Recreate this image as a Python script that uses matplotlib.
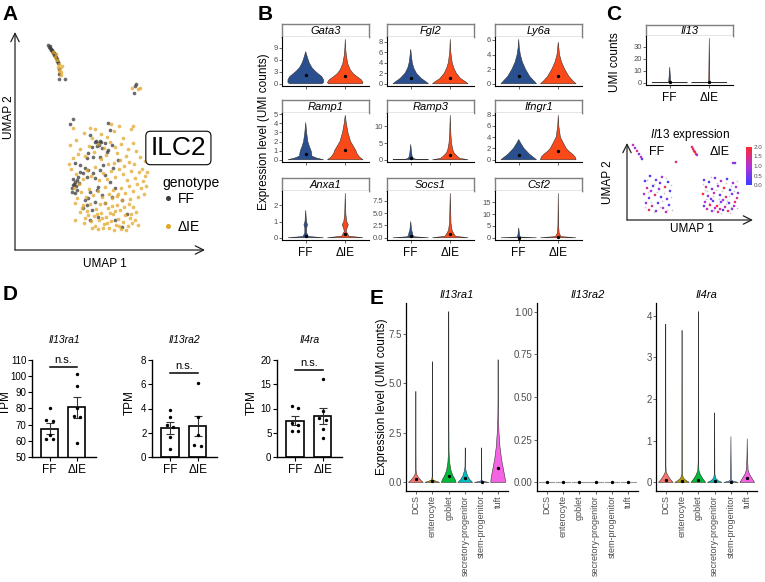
import numpy as np
import matplotlib
matplotlib.use("Agg")
import matplotlib.pyplot as plt
from matplotlib.colors import LinearSegmentedColormap, Normalize
from matplotlib.lines import Line2D

plt.rcParams['font.family'] = ['Liberation Sans', 'DejaVu Sans']
plt.rcParams['mathtext.fontset'] = 'custom'
plt.rcParams['mathtext.it'] = 'Liberation Sans:italic'
plt.rcParams['mathtext.rm'] = 'Liberation Sans'

# ---------------- data ----------------
# A: UMAP of ILC2, by genotype
a_ff_u1 = [3.3, 3.4, 3.5, 3.55, 3.6, 3.7, 3.75, 3.8, 3.9, 3.95, 4.0, 4.1, 4.2, 4.3, 4.4, 4.4, 4.4, 5.0,
           3.45, 3.65, 3.85, 4.05, 4.15, 4.25,
           12.0, 11.9, 12.1, 5.8,
           5.5, 9.3, 9.5, 7.5, 8.0, 8.3, 8.5, 8.2, 7.7, 8.7, 9.0, 9.3, 7.3, 7.2, 7.8, 8.5, 9.2, 9.7,
           6.0, 6.5, 7.0, 7.3, 6.8, 6.3, 6.2, 6.0, 5.8, 5.7, 6.2, 6.0, 5.7, 8.0, 9.0, 9.5, 8.3, 7.5,
           8.2, 8.7, 7.3, 7.2, 6.8, 7.7, 8.3, 7.5, 10.7, 7.0, 8.0, 9.0, 9.7, 10.0, 10.7, 6.5, 7.2,
           7.8, 8.5, 8.8, 9.8, 5.9, 6.1, 5.8, 6.4, 8.1, 8.4, 8.6, 10.3, 11.2, 10.0]
a_ff_u2 = [20.5, 20.3, 20.2, 20.1, 20.0, 19.9, 19.8, 19.7, 19.5, 19.6, 19.4, 19.2, 18.9, 18.7, 18.1, 17.6, 17.1, 17.1,
           20.4, 20.05, 19.75, 19.35, 19.1, 18.85,
           16.4, 15.7, 16.6, 13.1,
           12.6, 12.7, 12.0, 11.5, 10.8, 10.7, 10.9, 10.4, 10.3, 10.2, 10.7, 10.0, 9.7, 9.2, 9.3, 9.3, 9.8, 10.5,
           8.7, 8.5, 8.2, 8.0, 7.7, 7.3, 7.0, 6.8, 6.5, 6.2, 6.0, 5.7, 5.8, 7.2, 7.5, 6.8, 6.3, 5.8,
           6.0, 5.5, 5.2, 4.5, 4.2, 4.0, 3.3, 3.0, 2.3, 5.0, 4.8, 4.7, 5.3, 6.2, 5.0, 7.8, 7.3,
           7.7, 8.0, 8.5, 8.2, 6.6, 6.4, 7.1, 6.7, 10.9, 10.5, 10.8, 9.0, 3.6, 3.0]
a_die_u1 = [4.0, 4.2, 4.4, 4.5, 4.6, 4.7, 4.3, 4.1, 3.8, 4.55, 4.35, 11.7, 12.3, 12.5, 7.5, 11.8, 11.6,
            6.8, 7.2, 7.5, 7.9, 8.1, 8.4, 8.6, 8.9, 9.1, 9.3, 9.6, 9.8, 10.1, 10.3, 10.5, 10.8, 11.0, 11.3, 11.5,
            7.0, 7.6, 8.0, 8.3, 8.8, 9.4, 9.9, 10.6, 11.1, 7.3, 8.5, 9.0, 9.7, 10.2, 11.7, 12.0, 12.3, 12.1,
            11.8, 6.5, 6.9, 8.7, 9.5, 10.0, 10.9, 11.4, 7.7, 8.2, 9.2, 10.4, 11.6,
            6.2, 6.6, 7.1, 7.4, 7.8, 8.3, 8.7, 9.0, 9.4, 9.8, 10.2, 10.6, 11.0, 11.4, 11.8, 12.2, 12.6, 13.0,
            12.8, 12.4, 12.0, 11.6, 11.2, 10.8, 10.4, 10.0, 9.6, 9.2, 8.8, 8.4, 8.0, 7.6, 7.2, 6.8, 11.9, 11.4,
            10.9, 12.7, 13.2, 10.5, 9.9, 9.3, 8.6, 12.3, 12.9, 11.5, 10.7, 9.7, 13.1, 6.4, 5.9, 6.1, 5.6, 5.4,
            5.8, 6.3, 9.1, 10.2, 11.1, 12.5, 13.0, 6.7, 6.0,
            6.5, 7.0, 7.4, 7.9, 8.3, 8.9, 9.5, 10.0, 10.6, 11.3, 11.8, 12.1, 7.7, 8.6, 9.2, 9.9, 6.1, 6.9,
            10.8, 8.0, 9.6, 5.5, 5.8, 10.4, 6.0, 10.3]
a_die_u2 = [19.3, 19.0, 18.6, 18.2, 17.8, 18.4, 18.3, 19.6, 19.8, 17.5, 17.9, 16.2, 16.1, 16.2, 12.2, 12.4, 12.1,
            4.5, 3.9, 4.6, 3.4, 4.1, 3.0, 3.7, 2.6, 3.3, 4.2, 2.9, 3.6, 2.5, 3.1, 4.0, 2.8, 3.5, 2.4, 3.2,
            3.2, 2.9, 2.4, 2.1, 2.2, 2.2, 2.0, 2.1, 2.0, 3.5, 4.6, 4.7, 4.4, 4.5, 2.7, 3.0, 2.5, 3.8,
            4.3, 3.8, 2.7, 3.2, 3.7, 3.9, 4.3, 4.6, 2.2, 3.6, 2.7, 2.4, 3.6,
            5.2, 5.8, 5.3, 6.1, 5.5, 5.9, 5.3, 6.3, 5.6, 6.0, 5.4, 6.2, 5.7, 6.4, 5.9, 6.6, 6.2, 7.4,
            6.9, 7.8, 7.2, 7.9, 7.0, 7.6, 8.1, 7.3, 7.9, 7.1, 7.7, 7.0, 8.3, 7.4, 8.0, 7.1, 8.6, 8.8,
            8.4, 8.1, 7.8, 9.0, 8.7, 8.6, 9.1, 5.3, 5.6, 5.1, 5.0, 5.2, 6.4, 6.6, 6.2, 7.6, 8.1, 8.6,
            9.2, 9.6, 9.5, 9.7, 9.4, 9.3, 8.9, 4.2, 4.7,
            10.1, 9.4, 10.4, 9.8, 10.6, 10.2, 10.8, 10.3, 10.6, 10.1, 10.7, 9.9, 11.2, 11.6, 11.3, 11.9, 11.0, 11.7,
            11.2, 12.1, 12.6, 10.5, 12.2, 12.4, 3.0, 5.6]

# B: violin outlines, (level, relative half width); FF then dIE
b_genes = ['Gata3', 'Fgl2', 'Ly6a', 'Ramp1', 'Ramp3', 'Ifngr1', 'Anxa1', 'Socs1', 'Csf2']
b_ticks = [[0, 3, 6, 9], [0, 2, 4, 6, 8], [0, 2, 4, 6], [0, 1, 2, 3, 4, 5], [0, 5, 10],
           [0, 2, 4, 6, 8], [0, 1, 2], [0, 2.5, 5, 7.5], [0, 5, 10, 15]]
b_ticklabels = [None, None, None, None, None, None, None, ['0.0', '2.5', '5.0', '7.5'], None]
gata3 = [([0, 0.3, 1, 1.8, 2.5, 3.2, 4, 5.2, 6.5, 8.0], [0.9, 1, 1, 0.9, 0.7, 0.52, 0.35, 0.2, 0.1, 0]),
         ([0, 0.3, 1, 1.8, 2.5, 3.5, 5, 7, 9, 11.1], [0.95, 1, 0.9, 0.65, 0.45, 0.28, 0.14, 0.06, 0.02, 0])]
fgl2 = [([0, 0.4, 1, 2, 3, 4, 5, 6.6], [1, 0.85, 0.6, 0.32, 0.17, 0.09, 0.05, 0]),
        ([0, 0.4, 1, 2, 3, 4, 6, 8.5], [1, 0.85, 0.58, 0.34, 0.2, 0.11, 0.03, 0])]
ly6a = [([0, 0.4, 1, 2, 3, 4, 5, 6.1], [1, 0.85, 0.62, 0.38, 0.2, 0.09, 0.03, 0]),
        ([0, 0.4, 1, 2, 3, 4, 5.7], [1, 0.82, 0.6, 0.36, 0.18, 0.07, 0])]
ramp1 = [([0, 0.2, 0.4, 0.7, 1.0, 1.5, 2, 3, 4.1], [1, 0.6, 0.35, 0.33, 0.3, 0.2, 0.12, 0.05, 0]),
         ([0, 0.3, 0.7, 1.0, 1.5, 2, 3, 4, 4.9], [1, 0.8, 0.65, 0.6, 0.45, 0.3, 0.15, 0.06, 0])]
ramp3 = [([0, 0.15, 0.4, 1, 2, 4.6], [1, 0.3, 0.15, 0.08, 0.05, 0]),
         ([0, 0.4, 1, 2, 3, 5, 8, 13.3], [1, 0.55, 0.4, 0.22, 0.14, 0.07, 0.03, 0])]
ifngr1 = [([0, 0.5, 1, 1.5, 2, 3, 3.6], [1, 0.8, 0.6, 0.45, 0.3, 0.1, 0]),
          ([0, 0.5, 1, 1.5, 2, 3, 4, 6, 7.9], [1, 0.95, 0.8, 0.6, 0.45, 0.28, 0.12, 0.03, 0])]
anxa1 = [([0, 0.08, 0.3, 0.6, 0.8, 1.0, 1.7], [1, 0.15, 0.05, 0.05, 0.1, 0.04, 0]),
         ([0, 0.1, 0.4, 0.6, 0.8, 1.0, 1.5, 2.75], [1, 0.2, 0.05, 0.1, 0.17, 0.08, 0.03, 0])]
socs1 = [([0, 0.2, 0.5, 1, 1.5, 3.3], [1, 0.2, 0.12, 0.1, 0.05, 0]),
         ([0, 0.3, 0.8, 1.5, 3, 9.0], [1, 0.3, 0.2, 0.1, 0.04, 0])]
csf2 = [([0, 0.3, 1, 4.2], [1, 0.1, 0.05, 0]),
        ([0, 0.5, 2, 5, 18.8], [1, 0.15, 0.05, 0.02, 0])]
b_violins = [gata3, fgl2, ly6a, ramp1, ramp3, ifngr1, anxa1, socs1, csf2]
b_mean_ff = [2.3, 1.1, 1.0, 0.6, 0.6, 0.8, 0.1, 0.4, 0.1]
b_mean_die = [2.0, 1.1, 1.0, 1.05, 1.3, 1.5, 0.25, 0.7, 0.4]

# C: Il13
il13 = [([0, 0.3, 2, 13], [1, 0.08, 0.05, 0]), ([0, 0.3, 2, 37], [1, 0.05, 0.03, 0])]
il13_mean = [0.5, 0.4]
c_col_u1 = [0.6, 0.8, 1.0, 1.2, 1.4, 1.5, 4.9,
            1.8, 2.3, 2.9, 3.5, 4.1, 2.0, 2.6, 3.2, 3.8, 4.3, 1.7, 2.2, 2.8, 3.4, 4.0, 1.9, 2.5,
            3.1, 3.6, 4.2, 2.2, 2.9, 3.9, 3.3, 2.4,
            6.5, 6.6, 6.7, 6.8, 6.9, 7.0, 10.6, 10.8,
            7.7, 8.2, 8.8, 9.4, 10.0, 10.6, 7.9, 8.5, 9.1, 9.7, 10.3, 10.9, 7.6, 8.1, 8.7, 9.3,
            9.9, 10.5, 11.0, 7.8, 8.3, 8.6, 9.0, 9.4, 9.8, 10.2, 10.7, 8.0, 8.5, 9.1, 9.6, 10.1,
            10.5, 8.8, 9.3, 8.4, 9.6, 10.8, 7.7, 11.1]
c_col_u2 = [7.5, 7.2, 6.9, 6.6, 6.3, 6.1, 5.8,
            3.9, 4.4, 4.0, 4.3, 3.8, 3.2, 3.4, 3.1, 3.3, 2.9, 2.6, 2.2, 2.5, 2.3, 2.1, 1.7, 1.4,
            1.7, 1.2, 1.5, 1.0, 0.9, 0.8, 3.7, 2.9,
            7.3, 7.1, 6.9, 6.8, 6.6, 6.5, 5.7, 5.7,
            4.0, 3.8, 4.2, 3.9, 4.1, 3.7, 3.3, 3.1, 3.4, 3.2, 3.0, 3.3, 2.6, 2.4, 2.7, 2.5,
            2.3, 2.6, 2.2, 1.8, 1.5, 1.9, 1.4, 1.8, 1.3, 1.7, 1.4, 1.1, 0.9, 0.8, 1.0, 0.9,
            1.1, 1.2, 1.1, 2.1, 2.0, 1.8, 1.4, 2.7]
c_col_expr = [1.2, 0.8, 1.5, 0.6, 1.0, 0.3, 1.6,
              0.2, 0.1, 0.4, 0.9, 0.1, 1.4, 0.3, 0.7, 1.8, 0.2, 1.1, 0.5, 1.6, 0.1, 0.6, 0.8, 1.3,
              0.2, 1.0, 0.4, 1.7, 0.5, 1.2, 0.3, 0.9,
              1.5, 1.9, 1.2, 2.0, 1.6, 1.0, 0.8, 0.5,
              0.3, 0.1, 0.6, 1.2, 0.2, 0.9, 1.5, 0.4, 0.8, 1.8, 0.1, 1.1, 2.0, 0.7, 1.3, 0.2,
              1.6, 0.5, 1.4, 0.9, 1.7, 0.3, 1.9, 0.6, 1.2, 0.4, 1.0, 1.3, 0.8, 1.5, 0.2, 1.8,
              0.7, 1.1, 1.4, 0.5, 0.9, 1.6, 0.4, 0.8]
c_zero_u1 = [2.0, 2.7, 3.0, 3.7, 4.4, 2.4, 3.5, 4.4, 1.8, 3.3, 4.5, 2.7, 3.9, 2.1, 4.0,
             7.6, 8.4, 9.0, 9.9, 10.4, 11.0, 8.0, 8.9, 9.5, 10.2, 10.7, 7.9, 8.6, 9.2, 10.0, 10.4,
             8.2, 9.2, 9.9, 8.7, 9.4, 10.3, 7.8, 11.0]
c_zero_u2 = [4.0, 3.6, 2.8, 2.7, 3.5, 1.8, 1.9, 2.3, 1.3, 1.3, 1.0, 0.8, 4.2, 2.8, 1.0,
             3.6, 4.3, 3.7, 3.7, 3.4, 3.9, 2.9, 3.0, 2.9, 2.4, 2.9, 2.1, 2.4, 2.1, 1.9, 1.3,
             1.7, 1.6, 1.6, 1.0, 0.7, 0.7, 3.0, 1.2]

# D: bulk RNA-seq TPM
d_genes = ['Il13ra1', 'Il13ra2', 'Il4ra']
d_ylims = [(50, 110), (0, 8), (0, 20)]
d_ticks = [[50, 60, 70, 80, 90, 100, 110], [0, 2, 4, 6, 8], [0, 5, 10, 15, 20]]
d_ff_pts = [[80.2, 72.7, 72.5, 63.5, 61.0, 61.0], [3.85, 3.3, 2.6, 2.5, 1.65, 0.7], [10.5, 10.1, 7.0, 6.6, 5.4, 5.4]]
d_die_pts = [[101.5, 93.8, 80.0, 75.5, 75.0, 58.5], [6.1, 3.3, 1.8, 1.0, 0.9], [16.0, 9.5, 8.0, 7.7, 5.8, 3.9]]
d_ff_dx = [[0, -0.12, 0.12, 0, -0.12, 0.12], [0, 0, -0.12, 0.12, 0, 0], [-0.12, 0.12, -0.12, 0.12, -0.12, 0.12]]
d_die_dx = [[0, 0, 0, -0.12, 0.12, 0], [0, 0, 0, -0.12, 0.12], [0, 0, -0.12, 0.12, 0, 0]]
d_mean = [(67.6, 80.7), (2.4, 2.55), (7.5, 8.5)]
d_sem = [(3.4, 6.3), (0.5, 0.8), (0.95, 1.7)]
d_bracket = [105.7, 6.9, 17.9]

# E: scRNA-seq epithelium
e_cells = ['DCS', 'enterocyte', 'goblet', 'secretory-progenitor', 'stem-progenitor', 'tuft']
e_colors = ['#F8766D', '#B79F00', '#00BA38', '#00BFC4', '#619CFF', '#F564E3']
e_il13ra1 = [([0, 0.1, 0.25, 0.4, 0.6, 1.5, 4.6], [1, 0.7, 0.35, 0.12, 0.03, 0.02, 0]),
             ([0, 0.05, 0.12, 0.3, 6.1], [1, 0.6, 0.1, 0.02, 0]),
             ([0, 0.15, 0.35, 0.6, 1.0, 1.5, 3, 8.63], [1, 0.85, 0.55, 0.3, 0.12, 0.04, 0.015, 0]),
             ([0, 0.15, 0.35, 0.6, 0.8, 1.75], [1, 0.6, 0.3, 0.1, 0.03, 0]),
             ([0, 0.05, 0.1, 1.75], [1, 0.3, 0.02, 0]),
             ([0, 0.2, 0.5, 0.8, 1.2, 1.8, 2.5, 3.3, 4, 6.2], [1, 0.95, 0.8, 0.65, 0.45, 0.25, 0.12, 0.04, 0.02, 0])]
e_il13ra1_mean = [0.15, 0.05, 0.35, 0.2, 0.02, 0.72]
e_il4ra = [([0, 0.08, 0.18, 0.25, 0.4, 3.8], [1, 0.6, 0.25, 0.06, 0.02, 0]),
           ([0, 0.04, 0.1, 0.2, 3.65], [1, 0.6, 0.2, 0.03, 0]),
           ([0, 0.08, 0.18, 0.28, 0.5, 4.1], [1, 0.65, 0.3, 0.08, 0.02, 0]),
           ([0, 0.04, 0.1, 0.2, 1.67], [1, 0.5, 0.15, 0.03, 0]),
           ([0, 0.03, 0.06, 1.1], [1, 0.3, 0.05, 0]),
           ([0, 0.1, 0.2, 0.3, 0.6, 1.05], [1, 0.65, 0.3, 0.12, 0.04, 0])]
e_il4ra_mean = [0.05, 0.03, 0.05, 0.03, 0.01, 0.1]

FF_COL = '#2a4f8f'
DIE_COL = '#fb4a1a'
FF_DOT = '#3c3c3c'
DIE_DOT = '#e2a82b'
TICK_GRAY = '#4d4d4d'

# ---------------- figure ----------------
W, H = 765, 582
fig = plt.figure(figsize=(W / 100, H / 100), dpi=100)


def axbox(x0, y0, x1, y1):
    return fig.add_axes([x0 / W, 1 - y1 / H, (x1 - x0) / W, (y1 - y0) / H])


def ftext(x, y, s, **kw):
    kw.setdefault('ha', 'center')
    kw.setdefault('va', 'center')
    fig.text(x / W, 1 - y / H, s, **kw)


def violin(ax, x, ys, ws, color, half=0.45, lw=0.4):
    ys = np.asarray(ys, float)
    ws = np.asarray(ws, float) * half
    xs = np.concatenate([x - ws, (x + ws)[::-1]])
    yy = np.concatenate([ys, ys[::-1]])
    ax.fill(xs, yy, facecolor=color, edgecolor='#333333', lw=lw, zorder=2)


def strip(x0, y0, x1, y1, label):
    s = axbox(x0, y0, x1, y1)
    s.set_xticks([])
    s.set_yticks([])
    for sp in s.spines.values():
        sp.set_color('#7f7f7f')
        sp.set_linewidth(1.0)
    s.text(0.5, 0.45, label, ha='center', va='center', style='italic', fontsize=8)


def classic(ax, tsize=5.5, tcol=TICK_GRAY):
    for sp in ['top', 'right']:
        ax.spines[sp].set_visible(False)
    for sp in ['left', 'bottom']:
        ax.spines[sp].set_linewidth(0.8)
    ax.tick_params(labelsize=tsize, labelcolor=tcol, length=2, width=0.6, pad=1, color=TICK_GRAY)


# panel letters
for lab, (x, y) in zip('ABCDE', [(10, 14), (265, 14), (614, 14), (10, 295), (377, 299)]):
    ftext(x, y, lab, fontsize=15, fontweight='bold')

# ---- A ----
axA = axbox(15, 32, 205, 250)
axA.set_xlim(0, 19)
axA.set_ylim(0, 21.8)
axA.axis('off')
axA.scatter(a_ff_u1, a_ff_u2, s=7, color=FF_DOT, alpha=0.75, lw=0, zorder=2)
axA.scatter(a_die_u1, a_die_u2, s=7, color=DIE_DOT, alpha=0.75, lw=0, zorder=3)
arr = dict(arrowstyle='->,head_length=0.6,head_width=0.3', lw=0.9, color='#222222', shrinkA=0, shrinkB=0)
axA.annotate('', xy=(0, 21.8), xytext=(0, 0), arrowprops=arr, annotation_clip=False)
axA.annotate('', xy=(19, 0), xytext=(0, 0), arrowprops=arr, annotation_clip=False)
axA.text(0.86, 0.468, 'ILC2', transform=axA.transAxes, fontsize=19, ha='center', va='center',
         bbox=dict(boxstyle='round,pad=0.18', fc='white', ec='black', lw=0.8))
ftext(162, 183, 'genotype', fontsize=10, ha='left')
hd = [Line2D([], [], marker='o', ls='', color=FF_DOT, ms=2.6),
      Line2D([], [], marker='o', ls='', color=DIE_DOT, ms=2.6)]
fig.legend(hd, ['FF', 'ΔIE'], loc='upper left', bbox_to_anchor=(163 / W, 1 - 192 / H),
           frameon=False, fontsize=10, labelspacing=1.0, handlelength=0.7,
           handletextpad=0.35, borderpad=0, borderaxespad=0)
ftext(9, 117, 'UMAP 2', rotation=90, fontsize=8.5)
ftext(105, 264, 'UMAP 1', fontsize=8.5)

# ---- B ----
b_cols = [282, 387, 495]
b_rows = [37, 113, 191]
for i, gene in enumerate(b_genes):
    r, c = divmod(i, 3)
    x0, y0 = b_cols[c], b_rows[r]
    strip(x0, y0 - 13, x0 + 87, y0, gene)
    ax = axbox(x0, y0, x0 + 87, y0 + 49)
    prof = b_violins[i]
    M = max(max(prof[0][0]), max(prof[1][0]))
    violin(ax, 1, prof[0][0], prof[0][1], FF_COL)
    violin(ax, 2, prof[1][0], prof[1][1], DIE_COL)
    ax.plot([1, 2], [b_mean_ff[i], b_mean_die[i]], 'o', color='black', ms=1.4, zorder=3)
    ax.set_xlim(0.4, 2.6)
    ax.set_ylim(-0.05 * M, 1.05 * M)
    ax.set_yticks(b_ticks[i])
    if b_ticklabels[i]:
        ax.set_yticklabels(b_ticklabels[i])
    classic(ax)
    ax.set_xticks([1, 2])
    if r == 2:
        ax.set_xticklabels(['FF', 'ΔIE'])
        ax.tick_params(axis='x', labelcolor='black', labelsize=8.5, pad=3)
    else:
        ax.set_xticklabels([])
ftext(264, 132, 'Expression level (UMI counts)', rotation=90, fontsize=8.5)

# ---- C ----
strip(646, 25, 733, 36, 'Il13')
axC = axbox(646, 36, 733, 85)
M = max(il13[1][0])
violin(axC, 1, il13[0][0], il13[0][1], FF_COL)
violin(axC, 2, il13[1][0], il13[1][1], DIE_COL)
axC.plot([1, 2], il13_mean, 'o', color='black', ms=1.4, zorder=3)
axC.set_xlim(0.4, 2.6)
axC.set_ylim(-0.05 * M, 1.05 * M)
axC.set_yticks([0, 10, 20, 30])
classic(axC)
axC.set_xticks([1, 2])
axC.set_xticklabels(['FF', 'ΔIE'])
axC.tick_params(axis='x', labelcolor='black', labelsize=8.5, pad=3)
ftext(615, 62, 'UMI counts', rotation=90, fontsize=8.5)

ftext(690, 135, r'$\it{Il13}$ expression', fontsize=8.5)
axU = axbox(627, 143, 753, 220)
axU.set_xlim(0, 12.6)
axU.set_ylim(0, 7.7)
axU.axis('off')
axU.annotate('', xy=(0, 7.7), xytext=(0, 0), arrowprops=arr, annotation_clip=False)
axU.annotate('', xy=(12.6, 0), xytext=(0, 0), arrowprops=arr, annotation_clip=False)
cmap = LinearSegmentedColormap.from_list('fp', ['#3d3dff', '#b233d6', '#ff2b2b'])
norm = Normalize(0, 2)
axU.scatter(c_zero_u1, c_zero_u2, s=1.5, color='#c8c8c8', lw=0, zorder=2)
axU.scatter(c_col_u1, c_col_u2, c=c_col_expr, cmap=cmap, norm=norm, s=3.5, lw=0, zorder=3)
ftext(657, 152, 'FF', fontsize=9)
ftext(720, 152, 'ΔIE', fontsize=9)
ftext(608, 182, 'UMAP 2', rotation=90, fontsize=8.5)
ftext(692, 229, 'UMAP 1', fontsize=8.5)
cax = axbox(746, 147, 752, 185)
cb = fig.colorbar(plt.cm.ScalarMappable(norm=norm, cmap=cmap), cax=cax, ticks=[0, 0.5, 1.0, 1.5, 2.0])
cb.outline.set_visible(False)
cb.ax.tick_params(labelsize=4.5, labelcolor=TICK_GRAY, length=0, pad=1)
cb.ax.set_yticklabels(['0.0', '0.5', '1.0', '1.5', '2.0'])

# ---- D ----
d_x = [(32, 96), (152, 217), (277, 342)]
d_tpm_x = [6, 130, 252]
for i, gene in enumerate(d_genes):
    x0, x1 = d_x[i]
    ax = axbox(x0, 360, x1, 457)
    lo, hi = d_ylims[i]
    ax.bar([1, 2], d_mean[i], width=0.62, bottom=0, color='white', edgecolor='black', lw=1.2, zorder=1)
    ax.errorbar([1, 2], d_mean[i], yerr=d_sem[i], fmt='none', ecolor='#333333', elinewidth=0.8,
                capsize=3, capthick=0.8, zorder=2)
    ax.scatter(1 + np.array(d_ff_dx[i]), d_ff_pts[i], s=6, color='black', zorder=3, lw=0)
    ax.scatter(2 + np.array(d_die_dx[i]), d_die_pts[i], s=6, color='black', zorder=3, lw=0)
    ax.plot([1, 2], [d_bracket[i], d_bracket[i]], color='black', lw=1.1, clip_on=False)
    ax.text(1.5, d_bracket[i] + (hi - lo) * 0.02, 'n.s.', ha='center', va='bottom', fontsize=8)
    ax.set_xlim(0.35, 2.7)
    ax.set_ylim(lo, hi)
    ax.set_yticks(d_ticks[i])
    ax.set_xticks([1, 2])
    ax.set_xticklabels(['FF', 'ΔIE'])
    for sp in ['top', 'right']:
        ax.spines[sp].set_visible(False)
    for sp in ['left', 'bottom']:
        ax.spines[sp].set_linewidth(1.0)
    ax.tick_params(axis='y', labelsize=7, length=3, width=0.8, pad=1)
    ax.tick_params(axis='x', labelsize=8.5, length=3, width=0.8, pad=2)
    ftext(d_tpm_x[i], 403, 'TPM', rotation=90, fontsize=8.5)
    ftext((x0 + x1) / 2, 340, gene, fontsize=7.5, style='italic')

# ---- E ----
e_x = [(406, 508), (537, 638), (656, 757)]
e_titles = ['Il13ra1', 'Il13ra2', 'Il4ra']
pos = np.arange(1, 7)
for k in range(3):
    x0, x1 = e_x[k]
    ax = axbox(x0, 303, x1, 491)
    if k == 0:
        prof, means = e_il13ra1, e_il13ra1_mean
    elif k == 2:
        prof, means = e_il4ra, e_il4ra_mean
    else:
        prof, means = None, [0] * 6
    if prof is not None:
        for j in range(6):
            violin(ax, pos[j], prof[j][0], prof[j][1], e_colors[j])
        M = max(max(p[0]) for p in prof)
        ax.set_ylim(-0.05 * M, 1.05 * M)
    else:
        for j in range(6):
            ax.plot([pos[j] - 0.45, pos[j] + 0.45], [0, 0], color='#9a9a9a', lw=0.8, zorder=2)
        ax.set_ylim(-0.05, 1.05)
        ax.set_yticks([0, 0.25, 0.5, 0.75, 1.0])
        ax.set_yticklabels(['0.00', '0.25', '0.50', '0.75', '1.00'])
    ax.plot(pos, means, 'o', color='black', ms=1.4, zorder=3)
    if k == 0:
        ax.set_yticks([0, 2.5, 5.0, 7.5])
        ax.set_yticklabels(['0.0', '2.5', '5.0', '7.5'])
    if k == 2:
        ax.set_yticks([0, 1, 2, 3, 4])
    ax.set_xlim(0.4, 6.6)
    ax.set_xticks(pos)
    ax.set_xticklabels(e_cells, rotation=90)
    classic(ax, tsize=7)
    ax.tick_params(axis='x', labelsize=6.5)
    ax.spines['left'].set_linewidth(0.9)
    ax.spines['bottom'].set_linewidth(0.9)
    ftext((x0 + x1) / 2, 295, e_titles[k], fontsize=8, style='italic')
ftext(382, 397, 'Expression level (UMI counts)', rotation=90, fontsize=8.5)

fig.savefig('out.png', dpi=100)
